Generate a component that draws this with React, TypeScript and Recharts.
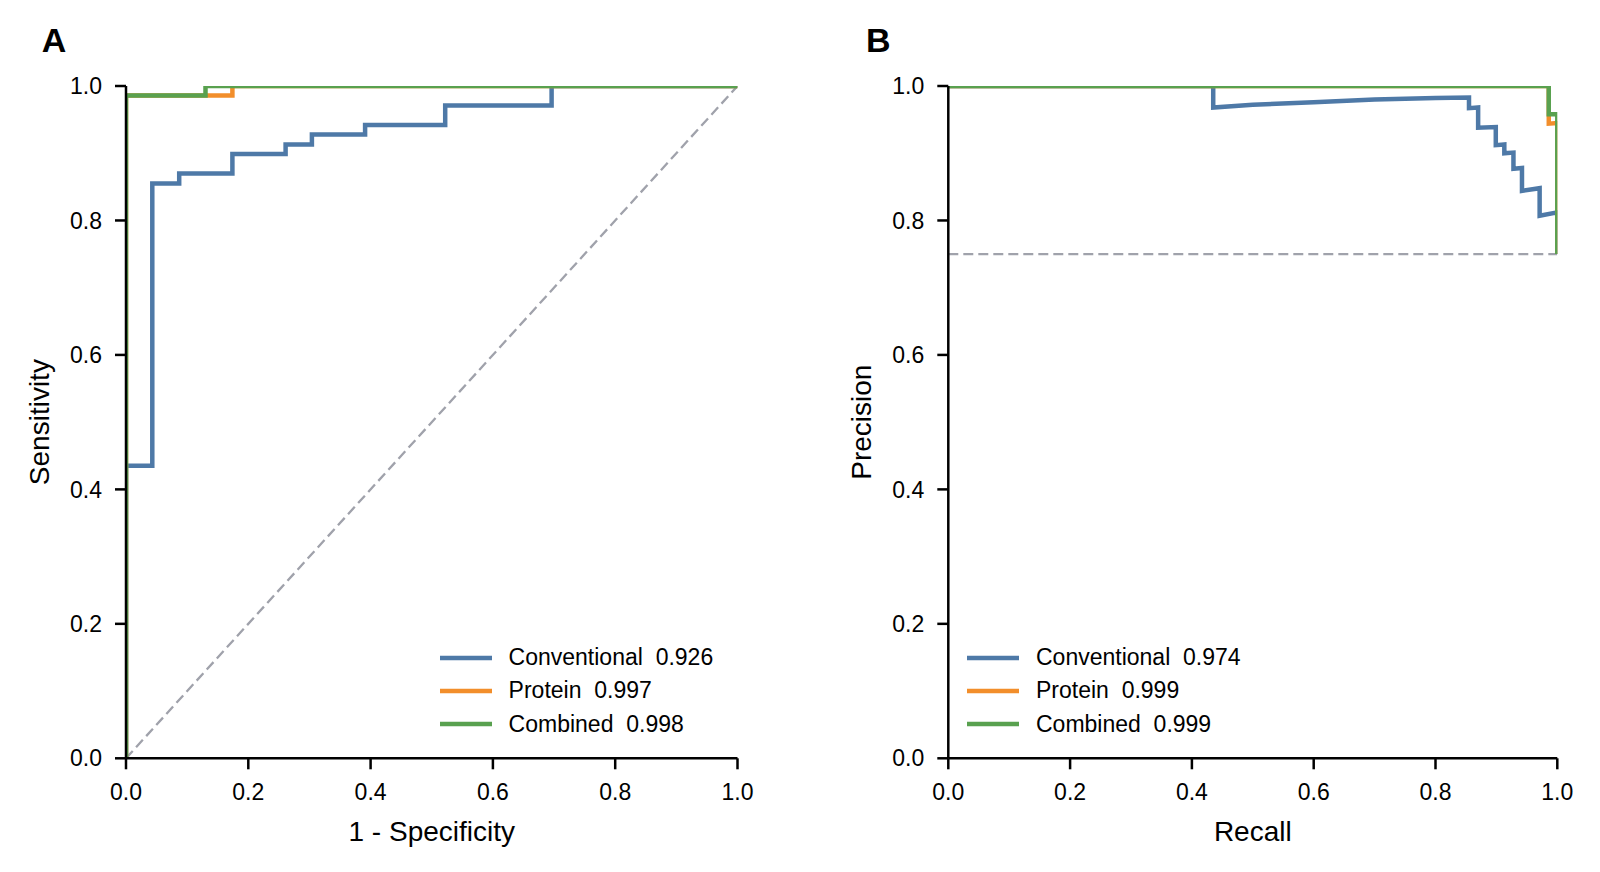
import React from 'react';
import { LineChart, Line, XAxis, YAxis, Legend } from 'recharts';

const FONT = '"Liberation Sans", Arial, Helvetica, sans-serif';

const seriesNames = ['Conventional', 'Protein', 'Combined'];
const seriesColors = ['#4e79a7', '#f28e2b', '#59a14f'];
const refColor = '#a0a2ab';
const rocAuc = ['0.926', '0.997', '0.998'];
const prAuc = ['0.974', '0.999', '0.999'];
const axisTicks = [0, 0.2, 0.4, 0.6, 0.8, 1.0];

// Panel A: ROC (x = 1 - specificity, y = sensitivity)
const rocConventionalFpr = [0, 0, 0.043, 0.043, 0.087, 0.087, 0.174, 0.174, 0.261, 0.261, 0.304, 0.304, 0.391, 0.391, 0.522, 0.522, 0.696, 0.696, 1];
const rocConventionalTpr = [0, 0.435, 0.435, 0.855, 0.855, 0.870, 0.870, 0.899, 0.899, 0.913, 0.913, 0.928, 0.928, 0.942, 0.942, 0.971, 0.971, 1, 1];
const rocProteinFpr = [0, 0, 0.174, 0.174, 1];
const rocProteinTpr = [0, 0.986, 0.986, 1, 1];
const rocCombinedFpr = [0, 0, 0.130, 0.130, 1];
const rocCombinedTpr = [0, 0.986, 0.986, 1, 1];
const rocChanceX = [0, 1];
const rocChanceY = [0, 1];

// Panel B: precision-recall
const prConventionalRecall = [0, 0.435, 0.435, 0.5, 0.6, 0.7, 0.8, 0.855, 0.855, 0.870, 0.870, 0.899, 0.899, 0.913, 0.913, 0.928, 0.928, 0.942, 0.942, 0.971, 0.971, 1, 1];
const prConventionalPrecision = [1, 1, 0.968, 0.972, 0.976, 0.980, 0.982, 0.983, 0.967, 0.968, 0.938, 0.939, 0.912, 0.913, 0.900, 0.901, 0.877, 0.878, 0.844, 0.848, 0.807, 0.812, 0.75];
const prProteinRecall = [0, 0.986, 0.986, 1, 1];
const prProteinPrecision = [1, 1, 0.944, 0.945, 0.75];
const prCombinedRecall = [0, 0.986, 0.986, 1, 1];
const prCombinedPrecision = [1, 1, 0.958, 0.958, 0.75];
const prBaselineX = [0, 1];
const prBaselineY = [0.75, 0.75];

const zip = (xs: number[], ys: number[]) => xs.map((x, i) => ({ x, y: ys[i] }));

const rocSeries = [
  zip(rocConventionalFpr, rocConventionalTpr),
  zip(rocProteinFpr, rocProteinTpr),
  zip(rocCombinedFpr, rocCombinedTpr),
];
const prSeries = [
  zip(prConventionalRecall, prConventionalPrecision),
  zip(prProteinRecall, prProteinPrecision),
  zip(prCombinedRecall, prCombinedPrecision),
];

const LINE_W = 4.5;

const makeLegend = (aucs: string[]) => () => (
  <div style={{ fontFamily: FONT, fontSize: 23, color: '#000' }}>
    {seriesNames.map((name, i) => (
      <div key={i} style={{ display: 'flex', alignItems: 'center', height: 33.3 }}>
        <svg width={52} height={8} style={{ display: 'block' }}>
          <line x1={0} x2={52} y1={4} y2={4} stroke={seriesColors[i]} strokeWidth={LINE_W} />
        </svg>
        <span style={{ marginLeft: 16.6, whiteSpace: 'pre', lineHeight: 1 }}>{`${name}  ${aucs[i]}`}</span>
      </div>
    ))}
  </div>
);

const tickStyle = { fill: '#000', fontSize: 23, fontFamily: FONT };
const axisLineStyle = { stroke: '#000', strokeWidth: 2.5 };

function Panel(props: {
  margin: any;
  series: { x: number; y: number }[][];
  reference: { x: number; y: number }[];
  aucs: string[];
  xLabel: string;
  yLabel: string;
  legendLeft: number;
}) {
  const { margin, series, reference, aucs, xLabel, yLabel, legendLeft } = props;
  const LegendContent = makeLegend(aucs);
  return (
    <LineChart width={800} height={872} margin={margin}>
      <XAxis
        type="number"
        dataKey="x"
        domain={[0, 1]}
        ticks={axisTicks}
        allowDataOverflow
        tickFormatter={(v: number) => v.toFixed(1)}
        tick={tickStyle}
        tickSize={11}
        tickMargin={14}
        axisLine={axisLineStyle}
        tickLine={axisLineStyle}
        height={100}
        label={{ value: xLabel, position: 'insideBottom', offset: 17, fill: '#000', fontSize: 28, fontFamily: FONT }}
      />
      <YAxis
        type="number"
        dataKey="y"
        domain={[0, 1]}
        ticks={axisTicks}
        allowDataOverflow
        tickFormatter={(v: number) => v.toFixed(1)}
        tick={tickStyle}
        tickSize={11}
        tickMargin={13}
        axisLine={axisLineStyle}
        tickLine={axisLineStyle}
        width={116}
        label={{ value: yLabel, angle: -90, position: 'insideLeft', offset: 29, textAnchor: 'middle', fill: '#000', fontSize: 28, fontFamily: FONT }}
      />
      <Line
        data={reference}
        dataKey="y"
        type="linear"
        stroke={refColor}
        strokeWidth={2.3}
        strokeDasharray="10 5"
        dot={false}
        activeDot={false}
        legendType="none"
        isAnimationActive={false}
      />
      {series.map((s, i) => (
        <Line
          key={i}
          data={s}
          dataKey="y"
          name={`${seriesNames[i]}  ${aucs[i]}`}
          type="linear"
          stroke={seriesColors[i]}
          strokeWidth={LINE_W}
          strokeLinejoin="miter"
          dot={false}
          activeDot={false}
          isAnimationActive={false}
        />
      ))}
      <Legend
        layout="vertical"
        align="center"
        verticalAlign="middle"
        content={<LegendContent />}
        wrapperStyle={{ left: legendLeft, top: 641, width: 'auto' }}
      />
    </LineChart>
  );
}

const letterStyle: React.CSSProperties = {
  position: 'absolute',
  top: 23,
  fontFamily: FONT,
  fontWeight: 'bold',
  fontSize: 34,
  lineHeight: '34px',
  color: '#000',
};

export default function App() {
  return (
    <div style={{ position: 'absolute', left: 0, top: 0, width: 1600, height: 872, background: '#fff' }}>
      <div style={{ position: 'absolute', left: 0, top: 0 }}>
        <Panel
          margin={{ top: 86, right: 62.5, bottom: 13.7, left: 10 }}
          series={rocSeries}
          reference={zip(rocChanceX, rocChanceY)}
          aucs={rocAuc}
          xLabel="1 - Specificity"
          yLabel="Sensitivity"
          legendLeft={440}
        />
      </div>
      <div style={{ position: 'absolute', left: 800, top: 0 }}>
        <Panel
          margin={{ top: 86, right: 42.7, bottom: 13.7, left: 32.3 }}
          series={prSeries}
          reference={zip(prBaselineX, prBaselineY)}
          aucs={prAuc}
          xLabel="Recall"
          yLabel="Precision"
          legendLeft={167.4}
        />
      </div>
      <div style={{ ...letterStyle, left: 41.7 }}>A</div>
      <div style={{ ...letterStyle, left: 866 }}>B</div>
    </div>
  );
}
